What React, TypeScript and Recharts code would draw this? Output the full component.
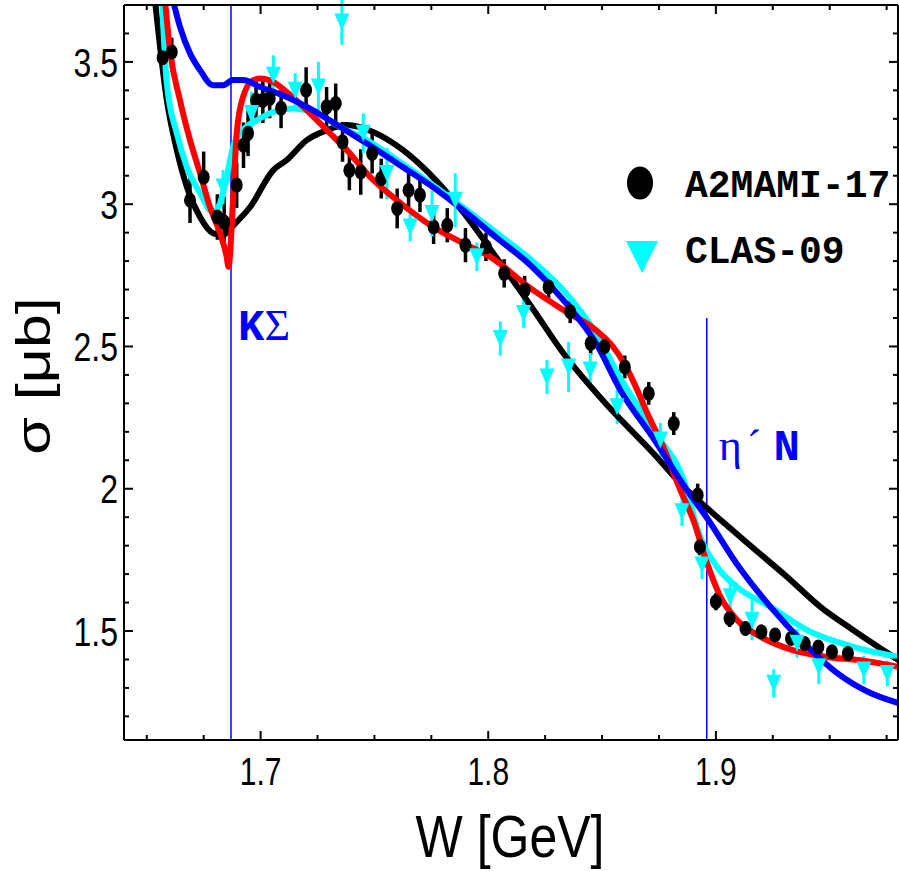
import React from 'react';
import {ComposedChart, Line, Scatter, ErrorBar, XAxis, YAxis, ReferenceLine} from 'recharts';

// model curves: [W (GeV), sigma (mub)]
const curveBlack = [
    [1.6536, 3.717], [1.6588, 3.366], [1.6632, 3.19], [1.6676, 3.061], [1.6734, 2.955], [1.6791, 2.898],
    [1.6835, 2.891], [1.6873, 2.92], [1.6954, 2.99], [1.7055, 3.119], [1.7115, 3.155], [1.7203, 3.225],
    [1.7291, 3.26], [1.7379, 3.278], [1.7494, 3.254], [1.7626, 3.19], [1.7745, 3.105], [1.789, 2.972],
    [1.8038, 2.81], [1.8185, 2.645], [1.833, 2.476], [1.8522, 2.294], [1.8725, 2.125], [1.8873, 1.995],
    [1.8961, 1.932], [1.9165, 1.791], [1.9313, 1.69], [1.9459, 1.585], [1.9604, 1.503], [1.9802, 1.398],
];
const curveRed = [
    [1.658, 3.717], [1.6602, 3.541], [1.6646, 3.365], [1.669, 3.225], [1.6734, 3.109], [1.6778, 2.989],
    [1.6822, 2.898], [1.6851, 2.815], [1.6859, 2.78], [1.6879, 3.014], [1.6895, 3.249], [1.6923, 3.377],
    [1.6967, 3.436], [1.6998, 3.442], [1.7055, 3.43], [1.7115, 3.394], [1.7203, 3.33], [1.7291, 3.26],
    [1.7379, 3.19], [1.7481, 3.096], [1.7599, 3.014], [1.7758, 2.92], [1.789, 2.863], [1.8009, 2.815],
    [1.8185, 2.705], [1.833, 2.628], [1.8478, 2.554], [1.8549, 2.498], [1.8602, 2.434], [1.8655, 2.346],
    [1.8698, 2.266], [1.8769, 2.147], [1.8844, 1.995], [1.8901, 1.89], [1.8961, 1.739], [1.902, 1.62],
    [1.9093, 1.539], [1.9196, 1.48], [1.9341, 1.432], [1.9489, 1.409], [1.9635, 1.397], [1.9802, 1.374],
];
const curveCyan = [
    [1.6567, 3.717], [1.6588, 3.424], [1.6632, 3.249], [1.6676, 3.131], [1.6734, 3.039], [1.6791, 2.973],
    [1.6822, 3.004], [1.6851, 3.096], [1.6879, 3.201], [1.6923, 3.26], [1.6983, 3.295], [1.7055, 3.324],
    [1.7143, 3.336], [1.7203, 3.33], [1.7262, 3.313], [1.7349, 3.272], [1.7467, 3.225], [1.7599, 3.155],
    [1.7745, 3.074], [1.789, 2.989], [1.8038, 2.898], [1.8185, 2.807], [1.833, 2.698], [1.8478, 2.54],
    [1.858, 2.389], [1.8725, 2.206], [1.8873, 1.995], [1.8917, 1.862], [1.9005, 1.726], [1.9093, 1.655],
    [1.924, 1.585], [1.9401, 1.503], [1.9604, 1.444], [1.9802, 1.409],
];
const curveBlue = [
    [1.6615, 3.717], [1.6646, 3.623], [1.669, 3.53], [1.6734, 3.471], [1.6791, 3.418], [1.6835, 3.418],
    [1.6879, 3.436], [1.6923, 3.436], [1.6998, 3.412], [1.7115, 3.377], [1.7231, 3.33], [1.7349, 3.272],
    [1.7467, 3.213], [1.7599, 3.144], [1.7745, 3.067], [1.789, 2.979], [1.8038, 2.881], [1.8185, 2.786],
    [1.833, 2.663], [1.8478, 2.505], [1.858, 2.347], [1.8725, 2.178], [1.8873, 1.995], [1.8961, 1.897],
    [1.9093, 1.735], [1.924, 1.585], [1.9384, 1.46], [1.9533, 1.352], [1.9679, 1.282], [1.9802, 1.247],
];

// measurements: [W, sigma, error]
const a2mami17 = [
    [1.657, 3.515, 0.05], [1.661, 3.535, 0.05], [1.669, 3.014, 0.08], [1.675, 3.095, 0.09], [1.681, 2.955, 0.08],
    [1.684, 2.937, 0.09], [1.6895, 3.067, 0.08], [1.6925, 3.207, 0.08], [1.6945, 3.249, 0.08], [1.698, 3.365, 0.08],
    [1.701, 3.365, 0.08], [1.704, 3.372, 0.07], [1.709, 3.337, 0.07], [1.72, 3.401, 0.08], [1.729, 3.342, 0.07],
    [1.733, 3.354, 0.07], [1.736, 3.219, 0.07], [1.739, 3.119, 0.07], [1.744, 3.113, 0.08], [1.749, 3.178, 0.07],
    [1.753, 3.09, 0.07], [1.76, 2.985, 0.07], [1.765, 3.049, 0.07], [1.77, 3.032, 0.06], [1.776, 2.92, 0.06],
    [1.782, 2.926, 0.06], [1.79, 2.856, 0.06], [1.799, 2.85, 0.05], [1.807, 2.757, 0.05], [1.816, 2.698, 0.05],
    [1.8265, 2.709, 0.04], [1.836, 2.622, 0.04], [1.845, 2.511, 0.04], [1.851, 2.499, 0.04], [1.86, 2.428, 0.04],
    [1.8705, 2.335, 0.04], [1.8815, 2.229, 0.04], [1.892, 1.978, 0.04], [1.893, 1.796, 0.03], [1.9, 1.603, 0.03],
    [1.906, 1.544, 0.03], [1.913, 1.509, 0.02], [1.92, 1.497, 0.02], [1.926, 1.486, 0.02], [1.933, 1.474, 0.02],
    [1.939, 1.456, 0.02], [1.945, 1.444, 0.02], [1.951, 1.427, 0.02], [1.958, 1.421, 0.02],
];
const clas09 = [
    [1.6835, 3.06, 0.06], [1.696, 3.319, 0.076], [1.7056, 3.453, 0.07], [1.7152, 3.4, 0.06], [1.7254, 3.412, 0.088],
    [1.7357, 3.64, 0.08], [1.7451, 3.249, 0.07], [1.7555, 3.108, 0.09], [1.7657, 2.92, 0.05], [1.7753, 2.967, 0.08],
    [1.7855, 3.014, 0.095], [1.795, 2.815, 0.05], [1.8053, 2.528, 0.06], [1.8155, 2.616, 0.05], [1.8258, 2.393, 0.06],
    [1.8353, 2.428, 0.088], [1.8448, 2.417, 0.06], [1.8566, 2.288, 0.06], [1.8756, 2.171, 0.06], [1.8851, 1.919, 0.05],
    [1.8939, 1.732, 0.05], [1.9063, 1.62, 0.07], [1.9159, 1.538, 0.07], [1.9254, 1.316, 0.05], [1.9357, 1.457, 0.05],
    [1.9452, 1.374, 0.06], [1.965, 1.363, 0.05], [1.9753, 1.351, 0.045],
];

const xTicks = [1.65, 1.675, 1.7, 1.725, 1.75, 1.775, 1.8, 1.825, 1.85, 1.875, 1.9, 1.925, 1.95, 1.975];
const xLabels = ['1.7', '1.8', '1.9'];
const yTicks = [1.2, 1.3, 1.4, 1.5, 1.6, 1.7, 1.8, 1.9, 2, 2.1, 2.2, 2.3, 2.4, 2.5, 2.6, 2.7, 2.8, 2.9, 3, 3.1, 3.2, 3.3, 3.4, 3.5, 3.6];
const yLabels = ['1.5', '2', '2.5', '3', '3.5'];

const thresholdKSigma = 1.687;
const thresholdEtaN = 1.896;
const etaNLineTop = 2.6;

const X_DOMAIN: [number, number] = [1.64, 1.98];
const Y_DOMAIN: [number, number] = [1.117, 3.7];

const SANS = '"Liberation Sans", Arial, Helvetica, sans-serif';
const MONO = '"Liberation Mono", "Courier New", monospace';
const SERIF = '"Liberation Serif", "Times New Roman", serif';
const STRETCH = 1.27; // the original picture is squeezed horizontally

const toPts = (arr: number[][]) => arr.map(([w, s]) => ({w, s}));
const toErr = (arr: number[][]) => arr.map(([w, s, e]) => ({w, s, e}));

const findLabel = (labels: string[], v: number) => labels.find(l => Math.abs(parseFloat(l) - v) < 1e-6);

const makeTick = (side: 'bottom' | 'top' | 'left' | 'right') => (props: any) => {
    const {x, y, payload} = props;
    const labels = side === 'bottom' || side === 'top' ? xLabels : yLabels;
    const label = findLabel(labels, payload.value);
    const len = label ? 9 : 5;
    let line;
    if (side === 'bottom') line = <line x1={x} x2={x} y1={y} y2={y - len} stroke="#000" strokeWidth={2}/>;
    else if (side === 'top') line = <line x1={x} x2={x} y1={y} y2={y + len} stroke="#000" strokeWidth={2}/>;
    else if (side === 'left') line = <line x1={x} x2={x + len} y1={y} y2={y} stroke="#000" strokeWidth={2}/>;
    else line = <line x1={x} x2={x - len} y1={y} y2={y} stroke="#000" strokeWidth={2}/>;
    return (
        <g>
            {line}
            {label && side === 'bottom' &&
                <text transform={`translate(${x},${y + 45}) scale(1,${STRETCH})`} textAnchor="middle"
                      fontSize={30} fontFamily={SANS} fill="#000">{label}</text>}
            {label && side === 'left' &&
                <text transform={`translate(${x - 6},${y}) scale(1,${STRETCH})`} textAnchor="end" dy="0.36em"
                      fontSize={32} fontFamily={SANS} fill="#000">{label}</text>}
        </g>
    );
};

const A2Dot = (p: any) => <ellipse cx={p.cx} cy={p.cy} rx={6} ry={7.5} fill="#000"/>;
const ClasTri = (p: any) =>
    <path d={`M${p.cx - 7.5},${p.cy - 8.5}L${p.cx + 7.5},${p.cy - 8.5}L${p.cx},${p.cy + 8.5}Z`} fill="#00ffff"/>;

const KSigmaLabel = (p: any) => (
    <text x={p.viewBox.x + 7} y={340} fontSize={44} fill="#0000ff">
        <tspan fontFamily={MONO} fontWeight="bold">K</tspan>
        <tspan fontFamily={SERIF}>Σ</tspan>
    </text>
);
const EtaNLabel = (p: any) => (
    <text x={p.viewBox.x + 12} y={460} fontSize={44} fill="#0000ff">
        <tspan fontFamily={SERIF}>η</tspan>
        <tspan fontFamily={SERIF} dx={5}>´</tspan>
        <tspan fontFamily={MONO} fontWeight="bold" dx={12}>N</tspan>
    </text>
);

const axisLine = {stroke: '#000', strokeWidth: 2};

const App = () => {
    return (
        <div style={{position: 'absolute', left: 0, top: 0, width: 899, height: 871, background: '#fff'}}>
            <ComposedChart width={899} height={871} margin={{top: 4, right: 0, bottom: 101, left: 64}}>
                <XAxis xAxisId={0} dataKey="w" type="number" domain={X_DOMAIN} allowDataOverflow ticks={xTicks}
                       height={30} axisLine={axisLine} tickLine={false} tickSize={0} tickMargin={0}
                       tick={makeTick('bottom')} interval={0}/>
                <XAxis xAxisId="top" orientation="top" dataKey="w" type="number" domain={X_DOMAIN} allowDataOverflow
                       ticks={xTicks} height={1} axisLine={axisLine} tickLine={false} tickSize={0} tickMargin={0}
                       tick={makeTick('top')} interval={0}/>
                <YAxis yAxisId={0} dataKey="s" type="number" domain={Y_DOMAIN} allowDataOverflow ticks={yTicks}
                       width={60} axisLine={axisLine} tickLine={false} tickSize={0} tickMargin={0}
                       tick={makeTick('left')} interval={0}/>
                <YAxis yAxisId="right" orientation="right" dataKey="s" type="number" domain={Y_DOMAIN}
                       allowDataOverflow ticks={yTicks} width={1} axisLine={axisLine} tickLine={false} tickSize={0}
                       tickMargin={0} tick={makeTick('right')} interval={0}/>

                <ReferenceLine x={thresholdKSigma} stroke="#0000ff" strokeWidth={1.5} label={KSigmaLabel}/>
                <ReferenceLine segment={[{x: thresholdEtaN, y: Y_DOMAIN[0]}, {x: thresholdEtaN, y: etaNLineTop}]}
                               stroke="#0000ff" strokeWidth={1.5} label={EtaNLabel}/>

                <Scatter name="A2MAMI-17" data={toErr(a2mami17)} dataKey="s" shape={A2Dot} isAnimationActive={false}>
                    <ErrorBar dataKey="e" direction="y" width={0} stroke="#000" strokeWidth={3.5} isAnimationActive={false}/>
                </Scatter>
                <Scatter name="CLAS-09" data={toErr(clas09)} dataKey="s" shape={ClasTri} isAnimationActive={false}>
                    <ErrorBar dataKey="e" direction="y" width={0} stroke="#00ffff" strokeWidth={3} isAnimationActive={false}/>
                </Scatter>

                <Line data={toPts(curveBlack)} dataKey="s" type="monotone" stroke="#000" strokeWidth={6}
                      dot={false} activeDot={false} isAnimationActive={false}/>
                <Line data={toPts(curveCyan)} dataKey="s" type="monotone" stroke="#00ffff" strokeWidth={6}
                      dot={false} activeDot={false} isAnimationActive={false}/>
                <Line data={toPts(curveRed)} dataKey="s" type="monotone" stroke="#ff0000" strokeWidth={6}
                      dot={false} activeDot={false} isAnimationActive={false}/>
                <Line data={toPts(curveBlue)} dataKey="s" type="monotone" stroke="#0000ff" strokeWidth={6}
                      dot={false} activeDot={false} isAnimationActive={false}/>
            </ComposedChart>

            {/* legend and axis titles */}
            <svg width={899} height={871} style={{position: 'absolute', left: 0, top: 0, pointerEvents: 'none'}}>
                <ellipse cx={640} cy={183} rx={13} ry={16.5} fill="#000"/>
                <text x={685} y={197} fontSize={38} fontFamily={MONO} fontWeight="bold" fill="#000">A2MAMI-17</text>
                <path d="M626,241L658,241L642,273Z" fill="#00ffff"/>
                <text x={685} y={263} fontSize={38} fontFamily={MONO} fontWeight="bold" fill="#000">CLAS-09</text>
                <text transform={`translate(510,857) scale(1,1.2)`} textAnchor="middle" fontSize={50}
                      fontFamily={SANS} fill="#000">W [GeV]</text>
                <text transform={`translate(50,376) scale(1,${STRETCH}) rotate(-90)`} textAnchor="middle" fontSize={48}
                      fontFamily={SANS} fill="#000">σ [μb]</text>
            </svg>
        </div>
    );
};

export default App;
